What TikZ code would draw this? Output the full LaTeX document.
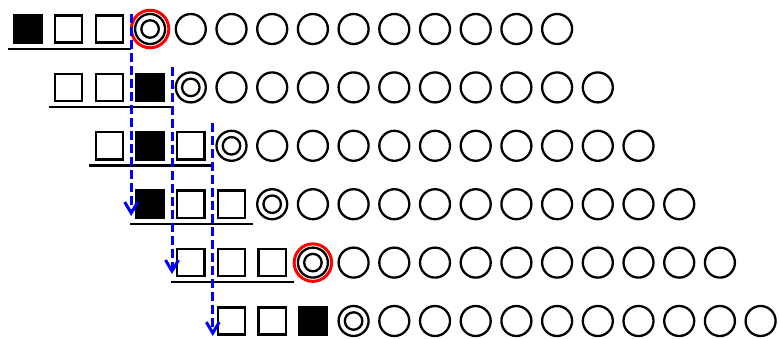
\documentclass[tikz,border=0pt]{standalone}
\usetikzlibrary{arrows.meta}
\begin{document}
\begin{tikzpicture}[x=1pt,y=-1pt,
  sq/.style={draw,line width=2.3pt,minimum size=27.2pt,inner sep=0pt,outer sep=0pt},
  sqfill/.style={sq,fill=black},
  pc/.style={draw,circle,line width=2.3pt,minimum size=30pt,inner sep=0pt,outer sep=0pt},
  dcin/.style={draw,circle,line width=2.3pt,minimum size=17.5pt,inner sep=0pt,outer sep=0pt},
  redring/.style={draw=red,circle,line width=3pt,minimum size=37.5pt,inner sep=0pt,outer sep=0pt},
  ul/.style={draw,line width=2.1pt},
  barrow/.style={draw=blue,line width=3pt,dash pattern=on 8.5pt off 4.5pt,
    -{Straight Barb[length=11pt,width=13pt,line width=3pt]}}
]
\useasboundingbox (0,0) rectangle (779,338);
\foreach \r/\f in {0/0,1/2,2/1,3/0,4/9,5/2}{
  \foreach \i in {0,1,2}{
    \ifnum\i=\f
      \node[sqfill] (s\r\i) at ({28+(\r+\i)*40.7},{29+\r*58.4}) {};
    \else
      \node[sq] (s\r\i) at ({28+(\r+\i)*40.7},{29+\r*58.4}) {};
    \fi
  }
  \node[pc] (d\r) at ({28+(\r+3)*40.7},{29+\r*58.4}) {};
  \node[dcin] (d\r in) at (d\r.center) {};
  \foreach \i in {4,...,13}{
    \node[pc] (c\r-\i) at ({28+(\r+\i)*40.7},{29+\r*58.4}) {};
  }
}
% red rings
\node[redring] (r0) at (d0.center) {};
\node[redring] (r4) at (d4.center) {};
% underlines
\foreach \r in {0,...,4}{
  \draw[ul] ([xshift=-6.4pt,yshift=-6.1pt]s\r0.south west) -- ([xshift=7.9pt,yshift=-6.1pt]s\r2.south east);
}
% blue dashed arrows
\coordinate (a0) at (131.2,14);
\coordinate (b0) at (131.2,216);
\coordinate (a1) at (172,67);
\coordinate (b1) at (172,274);
\coordinate (a2) at (212.8,123);
\coordinate (b2) at (212.8,336);
\foreach \k in {0,1,2}{
  \draw[barrow] (a\k) -- (b\k);
}
\end{tikzpicture}
\end{document}
